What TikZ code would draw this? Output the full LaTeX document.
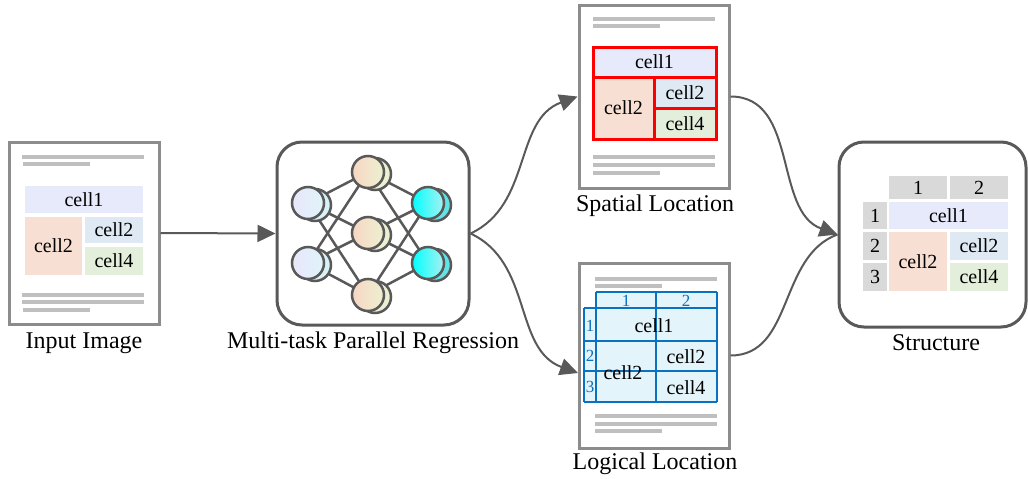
\documentclass[tikz,border=0pt]{standalone}
\usepackage{fontspec}
\setmainfont{Liberation Serif}
\usetikzlibrary{arrows.meta}
\definecolor{cLav}{HTML}{E7EAFA}
\definecolor{cOra}{HTML}{F7E0D3}
\definecolor{cBlu}{HTML}{DEE9F4}
\definecolor{cGre}{HTML}{E3EFDA}
\definecolor{cLine}{HTML}{BFBFBF}
\definecolor{cDoc}{HTML}{8C8C8C}
\definecolor{cDark}{HTML}{595959}
\definecolor{cHead}{HTML}{D9D9D9}
\definecolor{cLog}{HTML}{E4F4FB}
\definecolor{cLogB}{HTML}{0A70C0}
\definecolor{cRed}{HTML}{FF0000}
\newcommand\cellat[7]{%
  \pgfmathsetmacro\cw{#4-#2}\pgfmathsetmacro\ch{#5-#3}%
  \node[cellstyle,#6,minimum width=\cw pt,minimum height=\ch pt] (#1) at ({(#2+#4)/2},{(#3+#5)/2}) {#7};}
\newcommand\boxat[6]{%
  \pgfmathsetmacro\cw{#4-#2}\pgfmathsetmacro\ch{#5-#3}%
  \node[#6,minimum width=\cw pt,minimum height=\ch pt] (#1) at ({(#2+#4)/2},{(#3+#5)/2}) {};}
\tikzset{
  cellstyle/.style={inner sep=0pt,outer sep=0pt,font=\fontsize{20}{22}\selectfont},
  docbox/.style={draw=cDoc,line width=3pt,fill=white,inner sep=0pt},
  roundbox/.style={draw=cDark,line width=3pt,rounded corners=25pt,fill=white,inner sep=0pt},
  lbl/.style={font=\fontsize{24}{28}\selectfont,inner sep=0pt},
  conn/.style={draw=cDark,line width=2pt,-{Triangle[length=18pt,width=17pt]}},
  conn2/.style={draw=cDark,line width=2pt},
  neuron/.style={circle,draw=cDark,line width=2.5pt,minimum size=32pt,inner sep=0pt},
  nnline/.style={draw=cDark,line width=2.5pt},
  bluetxt/.style={text=cLogB,font=\fontsize{17}{19}\selectfont,inner sep=0pt},
}
\begin{document}
\begin{tikzpicture}[x=1pt,y=-1pt]
\useasboundingbox (0,0) rectangle (1028,479);
% ---------- Input image ----------
\boxat{inp}{9}{142}{159}{324}{docbox}
\fill[cLine] (22,155) rectangle (144,159);
\fill[cLine] (23,162) rectangle (90,166);
\fill[cLine] (22,293) rectangle (144,297);
\fill[cLine] (22,300) rectangle (144,304);
\fill[cLine] (23,308) rectangle (90,312);
\cellat{i1}{25}{186}{143}{213}{fill=cLav}{cell1}
\cellat{i2}{25}{217}{82}{275}{fill=cOra}{cell2}
\cellat{i3}{85}{217}{143}{243}{fill=cBlu}{cell2}
\cellat{i4}{85}{247}{143}{275}{fill=cGre}{cell4}
\node[lbl] (linp) at (84,343) {Input Image};
% ---------- NN ----------
\boxat{nn}{277}{142}{469}{325}{roundbox}
\coordinate (l1) at (308,203); \coordinate (l2) at (308,263);
\coordinate (m1) at (368,172); \coordinate (m2) at (368,233); \coordinate (m3) at (368,295);
\coordinate (r1) at (428,203); \coordinate (r2) at (428,263);
\foreach \a in {l1,l2}{\foreach \b in {m1,m2,m3}{\draw[nnline] (\a) -- (\b);}}
\foreach \a in {m1,m2,m3}{\foreach \b in {r1,r2}{\draw[nnline] (\a) -- (\b);}}
\foreach \n in {l1,l2}{
  \node[neuron,fill={rgb,255:red,216;green,240;blue,248}] (s\n) at ([shift={(7,2)}]\n) {};
  \node[neuron,left color={rgb,255:red,234;green,230;blue,250},right color={rgb,255:red,222;green,244;blue,250}] (n\n) at (\n) {};}
\foreach \n in {m1,m2,m3}{
  \node[neuron,fill={rgb,255:red,236;green,240;blue,210}] (s\n) at ([shift={(7,2)}]\n) {};
  \node[neuron,left color={rgb,255:red,248;green,214;blue,196},right color={rgb,255:red,236;green,240;blue,208}] (n\n) at (\n) {};}
\foreach \n in {r1,r2}{
  \node[neuron,fill={rgb,255:red,96;green,228;blue,232}] (s\n) at ([shift={(7,2)}]\n) {};
  \node[neuron,left color={rgb,255:red,0;green,255;blue,255},right color={rgb,255:red,170;green,240;blue,240}] (n\n) at (\n) {};}
\node[lbl] (lnn) at (373,343) {Multi-task Parallel Regression};
% ---------- Spatial ----------
\boxat{spa}{579}{5}{729}{188}{docbox}
\fill[cLine] (593,17) rectangle (715,21);
\fill[cLine] (593,24) rectangle (660,28);
\fill[cLine] (593,155) rectangle (715,159);
\fill[cLine] (593,163) rectangle (715,167);
\fill[cLine] (593,171) rectangle (660,175);
\cellat{s1}{593}{47}{716}{77}{fill=cLav}{cell1}
\cellat{s2}{593}{77}{654}{139}{fill=cOra}{cell2}
\cellat{s3}{654}{77}{716}{108}{fill=cBlu}{cell2}
\cellat{s4}{654}{108}{716}{139}{fill=cGre}{cell4}
\draw[cRed,line width=3pt] (s1.north west) rectangle (s4.south east);
\draw[cRed,line width=3pt] (s1.south west) -- (s1.south east);
\draw[cRed,line width=3pt] (s3.north west) -- (s4.south west);
\draw[cRed,line width=3pt] (s3.south west) -- (s3.south east);
\node[lbl] (lspa) at (655,206) {Spatial Location};
% ---------- Logical ----------
\boxat{log}{579}{263}{729}{448}{docbox}
\fill[cLine] (595,277) rectangle (717,281);
\fill[cLine] (595,284) rectangle (662,288);
\fill[cLine] (595,414) rectangle (717,418);
\fill[cLine] (595,422) rectangle (717,426);
\fill[cLine] (595,429) rectangle (662,433);
\fill[cLog] (596,292) rectangle (717,402);
\fill[cLog] (584,308) rectangle (596,402);
\draw[cLogB,line width=2.5pt]
  (596,292) -- (717,292) (584,308) -- (717,308) (584,341) -- (717,341)
  (584,371) -- (717,371) (584,402) -- (717,402)
  (584,308) -- (584,402) (596,292) -- (596,402) (656,292) -- (656,402) (717,292) -- (717,402);
\node[cellstyle] (g1) at (654,326) {cell1};
\node[cellstyle] (g2) at (623,373) {cell2};
\node[cellstyle] (g3) at (686,357) {cell2};
\node[cellstyle] (g4) at (686,388) {cell4};
\node[bluetxt] (gh1) at (626,301) {1};
\node[bluetxt] (gh2) at (686,301) {2};
\node[bluetxt] (gr1) at (590,326) {1};
\node[bluetxt] (gr2) at (590,356) {2};
\node[bluetxt] (gr3) at (590,387) {3};
\node[lbl] (llog) at (655,464) {Logical Location};
% ---------- Structure ----------
\boxat{str}{839}{142}{1026}{327}{roundbox}
\cellat{h1}{889}{176}{947}{199}{fill=cHead}{1}
\cellat{h2}{950}{176}{1008}{199}{fill=cHead}{2}
\cellat{q1}{863}{202}{887}{229}{fill=cHead}{1}
\cellat{q2}{863}{232}{887}{260}{fill=cHead}{2}
\cellat{q3}{863}{263}{887}{291}{fill=cHead}{3}
\cellat{t1}{889}{202}{1008}{229}{fill=cLav}{cell1}
\cellat{t2}{889}{232}{947}{291}{fill=cOra}{cell2}
\cellat{t3}{950}{232}{1008}{260}{fill=cBlu}{cell2}
\cellat{t4}{950}{263}{1008}{291}{fill=cGre}{cell4}
\node[lbl] (lstr) at (936,343) {Structure};
% ---------- connectors ----------
\coordinate (login) at (578,373);
\draw[conn] (inp.east) -- (nn.west);
\draw[conn] (nn.east) to[out=25,in=200] (spa.west);
\draw[conn] (nn.east) to[out=-25,in=160] (login);
\draw[conn2] (log.east) to[out=0,in=200] (str.west);
\draw[conn] (spa.east) to[out=0,in=160] (str.west);
\end{tikzpicture}
\end{document}
